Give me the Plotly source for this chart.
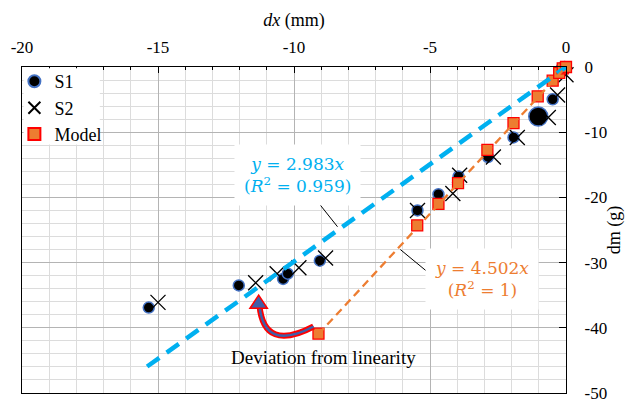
import plotly.graph_objects as go

# ---- data ----
s1_x = [-15.34, -12.03, -10.40, -10.23, -9.05, -5.46, -4.69, -3.95, -2.87, -1.93, -1.02, -0.49, -0.16, -0.05]
s1_y = [-36.9, -33.5, -32.5, -31.7, -29.7, -22.0, -19.5, -16.8, -13.8, -10.8, -7.6, -4.95, -0.2, 0.0]

s2_x = [-15.00, -11.41, -10.62, -9.82, -8.84, -5.46, -4.16, -3.91, -2.67, -1.79, -0.65, -0.31, -0.07, 0.0]
s2_y = [-36.1, -33.1, -31.7, -30.8, -29.3, -22.0, -19.4, -16.6, -13.8, -10.8, -7.75, -4.3, 0.3, -1.2]

model_x = [-9.10, -5.47, -4.69, -3.97, -2.89, -1.93, -1.04, -0.49, -0.25, -0.12, 0.0]
model_y = [-40.9, -24.3, -21.0, -17.8, -12.7, -8.6, -4.5, -2.1, -0.9, -0.2, 0.0]

fit_all_slope = 2.983
fit_all_r2 = 0.959
fit_all_xrange = [-15.4, 0.0]
fit_model_slope = 4.502
fit_model_r2 = 1
fit_model_xrange = [-9.10, 0.0]

x_ticks = [-20, -15, -10, -5, 0]
x_ticktext = ["-20", "-15", "-10", "-5", "0"]
y_ticks = [0, -10, -20, -30, -40, -50]
y_ticktext = ["0", "-10", "-20", "-30", "-40", "-50"]

BLUE = "#00B0F0"
ORANGE = "#ED7D31"
FONT = "Liberation Serif, Times New Roman, serif"
MATHFONT = "DejaVu Serif, serif"

fig = go.Figure()

s1_sizes = [11] * len(s1_x)
s1_sizes[10] = 19
fig.add_trace(go.Scatter(
    x=s1_x, y=s1_y, mode="markers", name="S1", cliponaxis=False,
    marker=dict(symbol="circle", size=s1_sizes, color="black", opacity=1,
                line=dict(color="#4472C4", width=1.5))))
fig.add_trace(go.Scatter(
    x=s2_x, y=s2_y, mode="markers", name="S2", cliponaxis=False,
    marker=dict(symbol="x-thin", size=15, color="black", opacity=1,
                line=dict(color="black", width=1.3))))
fig.add_trace(go.Scatter(
    x=model_x, y=model_y, mode="markers", name="Model", cliponaxis=False,
    marker=dict(symbol="square", size=11, color=ORANGE, opacity=1,
                line=dict(color="red", width=1.3))))

# trend lines
fig.add_trace(go.Scatter(
    x=fit_all_xrange, y=[fit_all_slope * v for v in fit_all_xrange],
    mode="lines", showlegend=False, cliponaxis=False,
    line=dict(color=BLUE, width=4.5, dash="15px,9px")))
fig.add_trace(go.Scatter(
    x=fit_model_xrange, y=[fit_model_slope * v for v in fit_model_xrange],
    mode="lines", showlegend=False, cliponaxis=False,
    line=dict(color=ORANGE, width=2.3, dash="8px,5px")))

# annotation boxes
fig.add_annotation(
    x=-9.87, y=-16.5, xref="x", yref="y", showarrow=False,
    text=f"<i>y</i> = {fit_all_slope}<i>x</i><br>(<i>R</i><sup>2</sup> = {fit_all_r2})",
    font=dict(family=MATHFONT, size=17, color=BLUE), bgcolor="white", borderpad=9)
fig.add_annotation(
    x=-3.08, y=-32.5, xref="x", yref="y", showarrow=False,
    text=f"<i>y</i> = {fit_model_slope}<i>x</i><br>(<i>R</i><sup>2</sup> = {fit_model_r2})",
    font=dict(family=MATHFONT, size=17, color=ORANGE), bgcolor="white", borderpad=9)
fig.add_annotation(
    x=-8.93, y=-44.6, xref="x", yref="y", showarrow=False,
    text="Deviation from linearity", font=dict(family=FONT, size=19, color="black"))

# leader lines
fig.add_shape(type="line", x0=-9.10, y0=-20.83, x1=-8.40, y1=-24.5,
              line=dict(color="black", width=1))
fig.add_shape(type="line", x0=-6.09, y0=-28.0, x1=-5.10, y1=-31.4,
              line=dict(color="black", width=1))

# curved arrow
arc = "M -9.28,-39.8 Q -11.1,-43.8 -11.27,-36.6"
fig.add_shape(type="path", path=arc, line=dict(color="red", width=6))
fig.add_shape(type="path", path=arc, line=dict(color="#3F5FA8", width=2.5))
fig.add_shape(type="path", path="M -11.30,-35.0 L -11.62,-37.0 L -10.98,-37.0 Z",
              fillcolor="#3F5FA8", line=dict(color="red", width=1.5))

# legend background
fig.add_shape(type="rect", xref="paper", yref="paper", x0=0.003, x1=0.143,
              y0=0.762, y1=0.996, fillcolor="white", line=dict(width=0), layer="above")

fig.update_layout(
    width=625, height=401,
    margin=dict(l=22, r=59, t=67, b=8, autoexpand=False),
    plot_bgcolor="white", paper_bgcolor="white",
    font=dict(family=FONT, size=17, color="black"),
    showlegend=True,
    legend=dict(x=-0.014, y=1.012, xanchor="left", yanchor="top",
                bgcolor="rgba(255,255,255,0)",
                font=dict(family=FONT, size=18), itemsizing="constant",
                tracegroupgap=0, borderwidth=0, itemwidth=30),
    xaxis=dict(side="top", range=[-20, 0], tickmode="array", tickvals=x_ticks,
               ticktext=x_ticktext, ticks="inside", ticklen=6, tickcolor="black",
               showline=True, linecolor="black", linewidth=1.3, mirror=True,
               showgrid=True, gridcolor="#B4B4B4", gridwidth=1, zeroline=False,
               automargin=False, ticklabeloverflow="allow",
               minor=dict(dtick=1, tick0=0, showgrid=True, gridcolor="#DCDCDC",
                          ticks="inside", ticklen=3, tickcolor="black"),
               ticklabelstandoff=6,
               title=dict(text="<i>dx</i> (mm)", standoff=6,
                          font=dict(family=FONT, size=18))),
    yaxis=dict(side="right", range=[-50, 0], tickmode="array", tickvals=y_ticks,
               ticktext=y_ticktext, ticks="inside", ticklen=7, tickcolor="black",
               showline=True, linecolor="black", linewidth=1.3, mirror=True,
               showgrid=True, gridcolor="#B4B4B4", gridwidth=1, zeroline=False,
               automargin=False, ticklabeloverflow="allow",
               minor=dict(dtick=2, tick0=0, showgrid=True, gridcolor="#DCDCDC"),
               ticklabelstandoff=14,
               title=dict(text="dm (g)", standoff=14,
                          font=dict(family=FONT, size=18))),
)

fig.write_html("out.html")
